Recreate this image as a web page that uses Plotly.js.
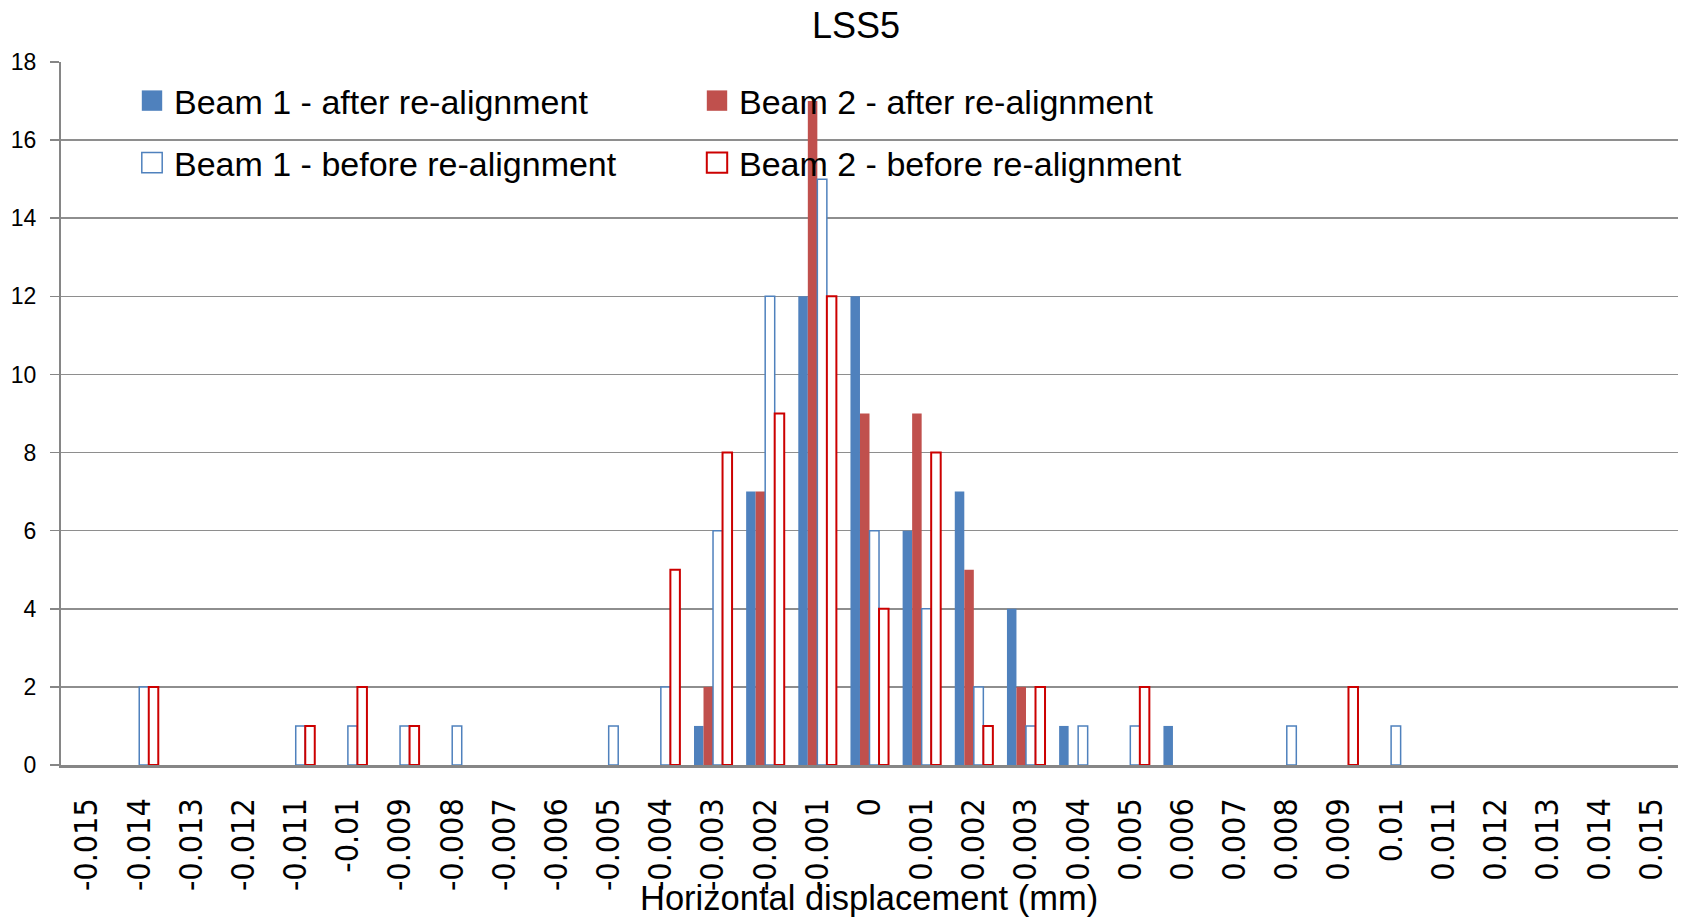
<!DOCTYPE html>
<html>
<head>
<meta charset="utf-8">
<script src="https://cdn.plot.ly/plotly-3.0.1.min.js"></script>
<style>html,body{margin:0;padding:0;background:#fff;}#chart{width:1682px;height:918px;}</style>
</head>
<body>
<div id="chart"></div>
<script>
// Category labels (horizontal displacement, mm)
const categories = ["-0.015","-0.014","-0.013","-0.012","-0.011","-0.01","-0.009","-0.008","-0.007","-0.006","-0.005","-0.004","-0.003","-0.002","-0.001","0","0.001","0.002","0.003","0.004","0.005","0.006","0.007","0.008","0.009","0.01","0.011","0.012","0.013","0.014","0.015"];

// Counts per bin
const beam1After  = [0,0,0,0,0,0,0,0,0,0,0,0,1,7,12,12,6,7,4,1,0,1,0,0,0,0,0,0,0,0,0];
const beam2After  = [0,0,0,0,0,0,0,0,0,0,0,0,2,7,17,9,9,5,2,0,0,0,0,0,0,0,0,0,0,0,0];
const beam1Before = [0,2,0,0,1,1,1,1,0,0,1,2,6,12,15,6,4,2,1,1,1,0,0,1,0,1,0,0,0,0,0];
const beam2Before = [0,2,0,0,1,2,1,0,0,0,0,5,8,9,12,4,8,1,2,0,2,0,0,0,2,0,0,0,0,0,0];

const seriesNames = ["Beam 1 - after re-alignment","Beam 2 - after re-alignment","Beam 1 - before re-alignment","Beam 2 - before re-alignment"];
const yTicks = [0,2,4,6,8,10,12,14,16,18];

const FONT = "'Liberation Sans', Arial, sans-serif";
const NARROW = "'Liberation Sans Narrow', 'DejaVu Sans Condensed', 'Liberation Sans', sans-serif";
const nz = a => a.map(v => v === 0 ? null : v);

const traces = [
  {type:'bar', name:seriesNames[0], x:categories, y:nz(beam1After), legend:'legend',
   marker:{color:'#4F81BD', line:{width:0}}},
  {type:'bar', name:seriesNames[1], x:categories, y:nz(beam2After), legend:'legend',
   marker:{color:'#C0504D', line:{width:0}}},
  {type:'bar', name:seriesNames[2], x:categories, y:nz(beam1Before), legend:'legend2',
   marker:{color:'#FFFFFF', line:{color:'#4F81BD', width:1.5}}},
  {type:'bar', name:seriesNames[3], x:categories, y:nz(beam2Before), legend:'legend2',
   marker:{color:'#FFFFFF', line:{color:'#CC0000', width:2}}}
];

const plotTop = 62, plotH = 703, plotL = 61, plotW = 1617, plotBottom = 765;
const legendCommon = {
  orientation:'h', xref:'paper', yref:'paper', xanchor:'left', yanchor:'middle',
  entrywidth:520, entrywidthmode:'pixels', bgcolor:'rgba(0,0,0,0)', borderwidth:0,
  font:{family:FONT, size:34, color:'#000'}, traceorder:'normal'
};

const layout = {
  width:1682, height:918,
  margin:{l:61, r:4, t:62, b:153},
  paper_bgcolor:'#fff', plot_bgcolor:'#fff',
  font:{family:FONT, color:'#000'},
  title:{text:'LSS5', font:{family:FONT, size:36, color:'#000'}, x:856/1682, xanchor:'center', xref:'container', yref:'container', y:1-25/918, yanchor:'middle'},
  barmode:'group', bargap:0.27, bargroupgap:0,
  xaxis:{
    type:'category', categoryorder:'array', categoryarray:categories,
    tickangle:-90, tickfont:{family:NARROW, size:32, color:'#000'},
    ticks:'', ticklabelstandoff:18,
    showline:true, linecolor:'#868686', linewidth:2.5, showgrid:false, zeroline:false,
    fixedrange:true
  },
  yaxis:{
    range:[0,18], tickvals:yTicks, ticktext:yTicks.map(String),
    tickfont:{family:FONT, size:23, color:'#000'},
    ticks:'outside', ticklen:9, tickwidth:1.5, tickcolor:'#868686', ticklabelstandoff:9,
    showgrid:true, gridcolor:'#8E8E8E', gridwidth:1.5,
    showline:true, linecolor:'#868686', linewidth:2, zeroline:false, fixedrange:true
  },
  legend:Object.assign({}, legendCommon, {x:(134-plotL)/plotW, y:1-(101-plotTop)/plotH}),
  legend2:Object.assign({}, legendCommon, {x:(134-plotL)/plotW, y:1-(163-plotTop)/plotH}),
  annotations:[{
    text:'Horizontal displacement (mm)', xref:'paper', yref:'paper',
    x:(869-plotL)/plotW, y:-(898-plotBottom)/plotH, xanchor:'center', yanchor:'middle',
    showarrow:false, font:{family:FONT, size:34.5, color:'#000'}
  }]
};

Plotly.newPlot('chart', traces, layout, {displayModeBar:false, staticPlot:true}).then(function(gd){
  gd.querySelectorAll('.legendpoints path').forEach(function(p){
    p.setAttribute('transform','translate(18,0) scale(1.7)');
    p.style.vectorEffect = 'non-scaling-stroke';
  });
});
</script>
</body>
</html>
